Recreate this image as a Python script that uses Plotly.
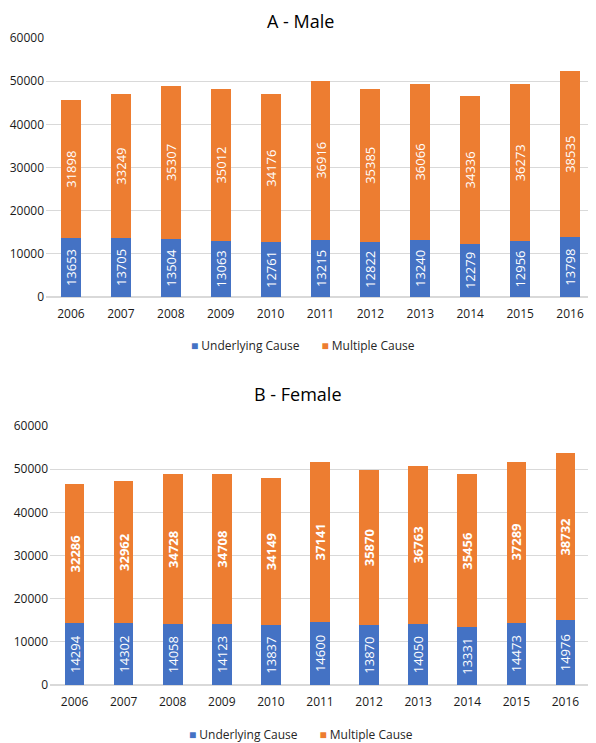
import plotly.graph_objects as go

years = ["2006", "2007", "2008", "2009", "2010", "2011", "2012", "2013", "2014", "2015", "2016"]
male_underlying = [13653, 13705, 13504, 13063, 12761, 13215, 12822, 13240, 12279, 12956, 13798]
male_multiple = [31898, 33249, 35307, 35012, 34176, 36916, 35385, 36066, 34336, 36273, 38535]
female_underlying = [14294, 14302, 14058, 14123, 13837, 14600, 13870, 14050, 13331, 14473, 14976]
female_multiple = [32286, 32962, 34728, 34708, 34149, 37141, 35870, 36763, 35456, 37289, 38732]
y_ticks = [0, 10000, 20000, 30000, 40000, 50000, 60000]
series_names = ["Underlying Cause", "Multiple Cause"]

BLUE = "#4472C4"
ORANGE = "#ED7D31"
FONT = "Open Sans"
OFF = 8            # page body margin
W = 596 - OFF
H = 743 - OFF

fig = go.Figure()

def add(x, y, name, color, xa, ya, bold):
    txt = [f"<b>{v}</b>" if bold else str(v) for v in y]
    fig.add_trace(go.Bar(
        x=x, y=y, name=name, marker=dict(color=color, line=dict(width=0)),
        text=txt, texttemplate="%{text}", textposition="inside", insidetextanchor="middle",
        textangle=-90, constraintext="none",
        textfont=dict(color="white", size=13, family=FONT),
        xaxis=xa, yaxis=ya, showlegend=False, cliponaxis=False,
    ))

add(years, male_underlying, series_names[0], BLUE, "x", "y", False)
add(years, male_multiple, series_names[1], ORANGE, "x", "y", False)
add(years, female_underlying, series_names[0], BLUE, "x2", "y2", False)
add(years, female_multiple, series_names[1], ORANGE, "x2", "y2", True)

def px(x):
    return (x - OFF) / W

def py(y):
    return 1 - (y - OFF) / H

yax = dict(range=[0, 60000], tickvals=y_ticks, tickformat="d", showgrid=True, gridcolor="#D9D9D9",
           gridwidth=1, zeroline=True, zerolinecolor="#D9D9D9", showline=False,
           ticks="", tickfont=dict(size=12, color="#1a1a1a", family=FONT),
           fixedrange=True, automargin=False, ticklabelstandoff=1)
xax = dict(showgrid=False, showline=False, ticks="", type="category", automargin=False,
           tickfont=dict(size=12, color="#1a1a1a", family=FONT), ticklabelstandoff=8)

def legend_text():
    return (f"<span style='color:{BLUE}'>■</span> {series_names[0]}"
            f"       <span style='color:{ORANGE}'>■</span> {series_names[1]}")

fig.update_layout(
    width=W, height=H, barmode="stack",
    margin=dict(l=0, r=0, t=0, b=0),
    paper_bgcolor="white", plot_bgcolor="white",
    font=dict(family=FONT),
    xaxis=dict(**xax, domain=[px(46), px(595)], anchor="y"),
    yaxis=dict(**yax, domain=[py(297), py(38)], anchor="x"),
    xaxis2=dict(**xax, domain=[px(50), px(590)], anchor="y2"),
    yaxis2=dict(**yax, domain=[py(685), py(426)], anchor="x2"),
    bargap=0.6,
    showlegend=False,
    annotations=[
        dict(text="A - Male", x=px(300), y=py(8), xref="paper", yref="paper",
             showarrow=False, font=dict(size=18, color="#000000", family=FONT),
             xanchor="center", yanchor="top", borderpad=0),
        dict(text="B - Female", x=px(298), y=py(394), xref="paper", yref="paper",
             showarrow=False, font=dict(size=18, color="#000000", family=FONT),
             xanchor="center", yanchor="middle"),
        dict(text=legend_text(), x=px(303), y=py(345), xref="paper", yref="paper",
             showarrow=False, font=dict(size=12, color="#262626", family=FONT),
             xanchor="center", yanchor="middle"),
        dict(text=legend_text(), x=px(301), y=py(734), xref="paper", yref="paper",
             showarrow=False, font=dict(size=12, color="#262626", family=FONT),
             xanchor="center", yanchor="middle"),
    ],
)

fig.write_html("out.html")
